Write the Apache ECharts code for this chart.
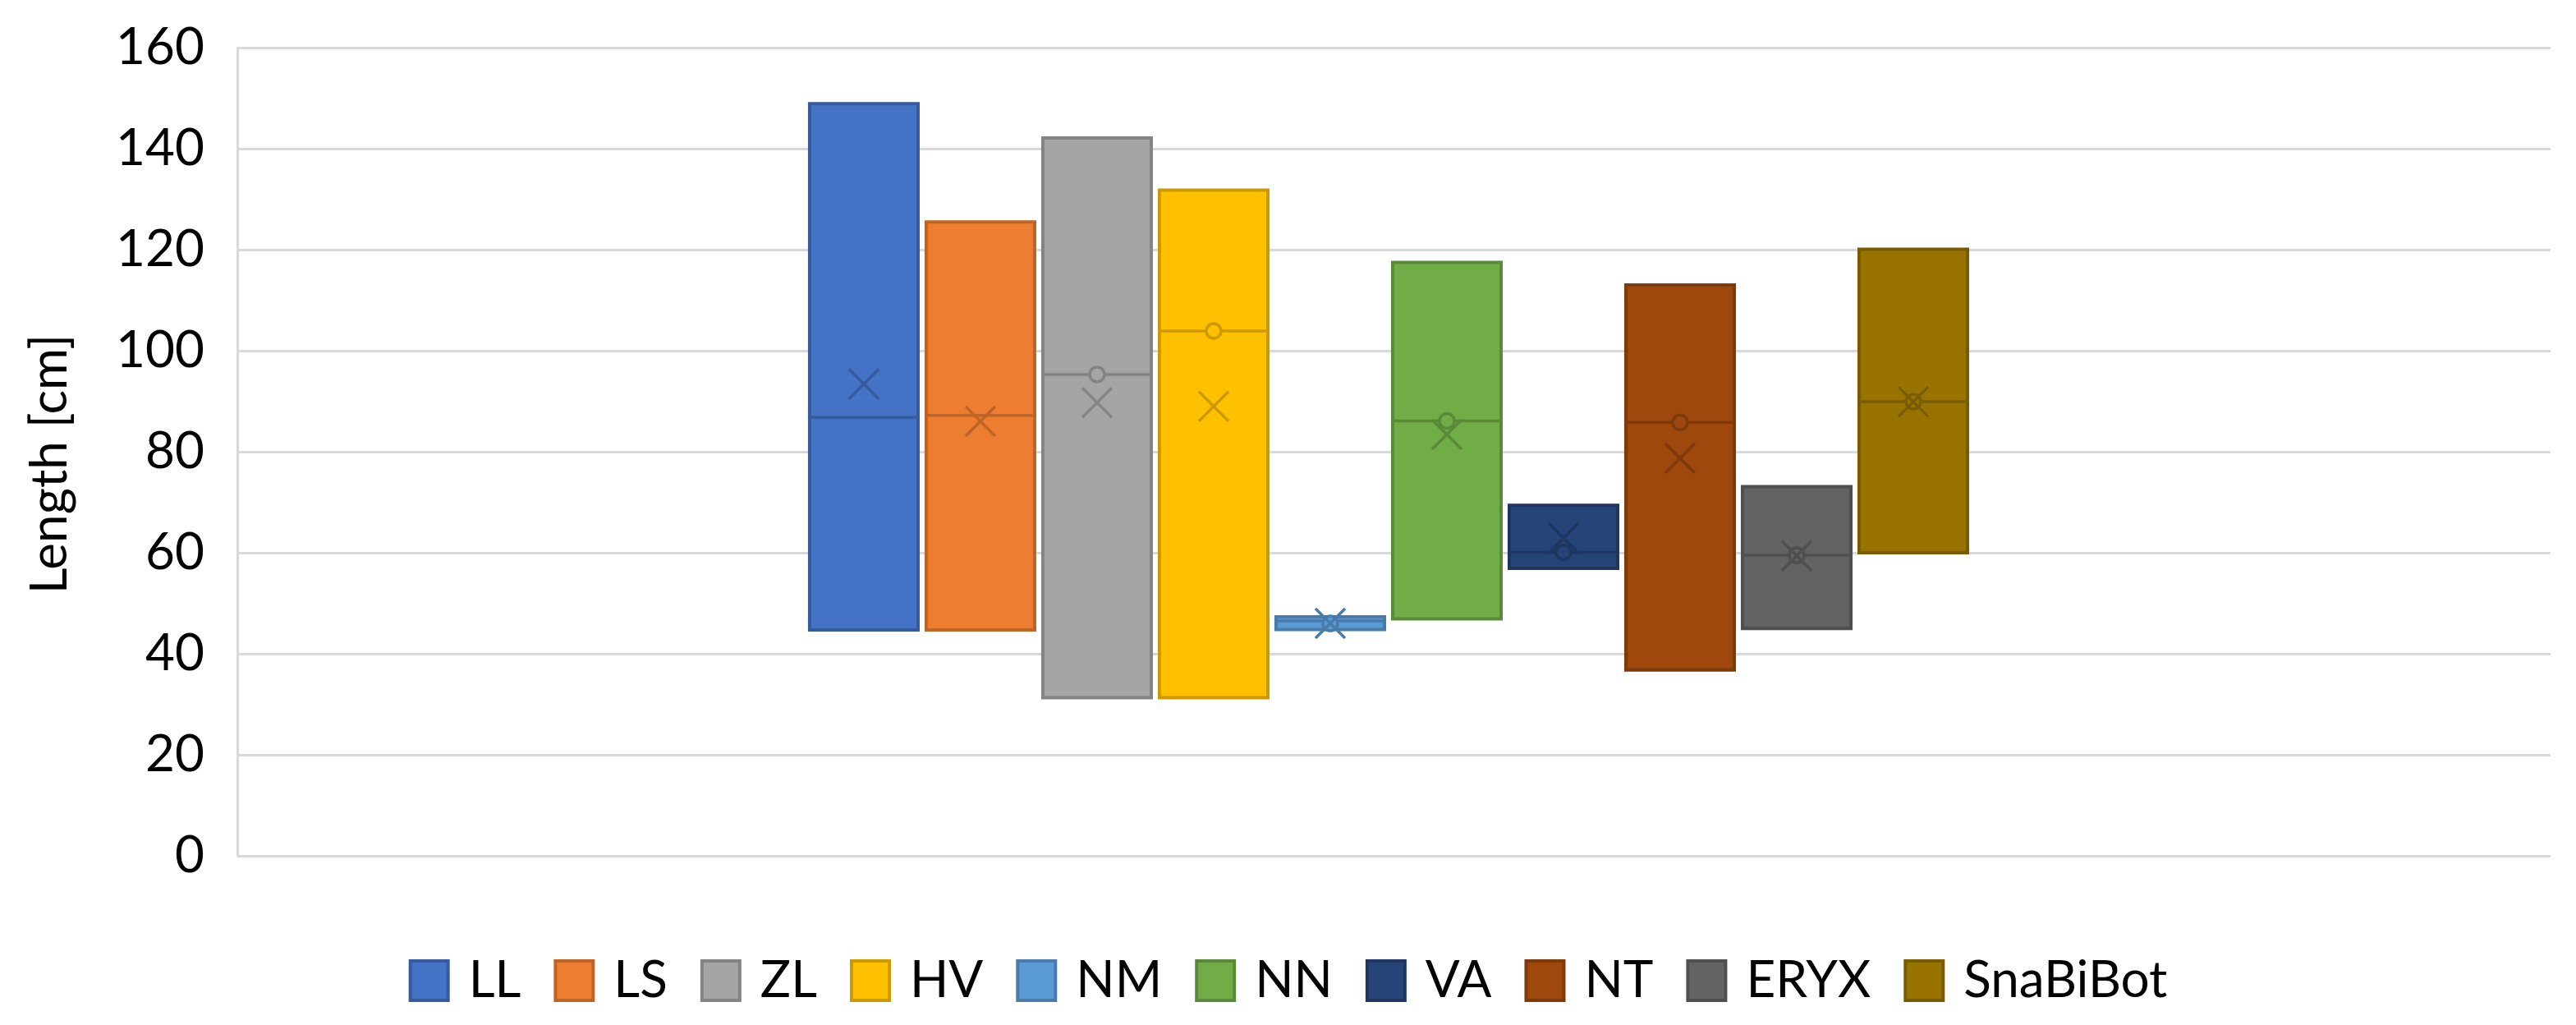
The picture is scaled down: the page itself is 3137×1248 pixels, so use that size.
<!DOCTYPE html>
<html>
<head>
<meta charset="utf-8">
<script src="https://cdn.jsdelivr.net/npm/echarts@6/dist/echarts.min.js"></script>
<style>html,body{margin:0;padding:0;background:#fff}#c{width:3137px;height:1248px}</style>
</head>
<body>
<div id="c"></div>
<script>
// ---- data ----
const names      = ['LL', 'LS', 'ZL', 'HV', 'NM', 'NN', 'VA', 'NT', 'ERYX', 'SnaBiBot'];
const minVals    = [44.7, 44.7, 31.3, 31.3, 44.8, 46.9, 56.9, 36.8, 45.0, 60.0];
const maxVals    = [148.9, 125.5, 142.1, 131.8, 47.3, 117.5, 69.4, 113.0, 73.1, 120.1];
const medians    = [86.8, 87.2, 95.3, 103.9, 46.5, 86.1, 60.1, 85.8, 59.5, 89.9];
const means      = [93.4, 86.0, 89.7, 89.0, 46.0, 83.4, 62.9, 78.7, 59.4, 89.9];
const innerPts   = [null, null, 95.3, 103.9, 46.0, 86.1, 60.1, 85.8, 59.5, 89.9];
const yTicks     = [0, 20, 40, 60, 80, 100, 120, 140, 160];

// ---- styles ----
const fills   = ['#4472C4', '#ED7D31', '#A5A5A5', '#FFC000', '#5B9BD5', '#70AD47', '#264478', '#9E480E', '#636363', '#997300'];
const borders = ['#365B9D', '#BE6427', '#848484', '#CC9A00', '#497CAA', '#5A8A39', '#1E3660', '#7E3A0B', '#4F4F4F', '#7A5C00'];
const FONT = 'Lato, "Open Sans", sans-serif';
const boxWidthUnits = 0.93;

function makeRender(i) {
  return function (params, api) {
    const x = api.value(0);
    const pMin = api.coord([x, api.value(1)]);
    const pMax = api.coord([x, api.value(2)]);
    const pMed = api.coord([x, api.value(3)]);
    const pMean = api.coord([x, api.value(4)]);
    const w = api.size([boxWidthUnits, 0])[0];
    const cx = pMin[0];
    const stroke = borders[i];
    const children = [
      { type: 'rect', shape: { x: cx - w / 2, y: pMax[1], width: w, height: pMin[1] - pMax[1] },
        style: { fill: fills[i], stroke: stroke, lineWidth: 4 } },
      { type: 'line', shape: { x1: cx - w / 2, y1: pMed[1], x2: cx + w / 2, y2: pMed[1] },
        style: { stroke: stroke, lineWidth: 3.5 } }
    ];
    if (innerPts[i] != null) {
      const pIn = api.coord([x, innerPts[i]]);
      children.push({ type: 'circle', shape: { cx: cx, cy: pIn[1], r: 9 },
        style: { fill: fills[i], stroke: stroke, lineWidth: 3.5 } });
    }
    const s = 18;
    children.push({ type: 'line', shape: { x1: cx - s, y1: pMean[1] - s, x2: cx + s, y2: pMean[1] + s },
      style: { stroke: stroke, lineWidth: 3.5 } });
    children.push({ type: 'line', shape: { x1: cx - s, y1: pMean[1] + s, x2: cx + s, y2: pMean[1] - s },
      style: { stroke: stroke, lineWidth: 3.5 } });
    return { type: 'group', children: children };
  };
}

const series = names.map(function (n, i) {
  return {
    name: n,
    type: 'custom',
    renderItem: makeRender(i),
    itemStyle: { color: fills[i], borderColor: borders[i] },
    encode: { x: 0, y: [1, 2, 3, 4] },
    data: [[i, minVals[i], maxVals[i], medians[i], means[i]]]
  };
});

const chart = echarts.init(document.getElementById('c'));
chart.setOption({
  animation: false,
  backgroundColor: '#ffffff',
  grid: { left: 289, right: 31, top: 58, bottom: 206, containLabel: false },
  xAxis: {
    type: 'value', min: -5.373, max: 14.465,
    show: false
  },
  yAxis: {
    type: 'value', min: yTicks[0], max: yTicks[yTicks.length - 1], interval: 20,
    name: 'Length [cm]', nameLocation: 'middle', nameGap: 197,
    nameTextStyle: { fontSize: 62, fontFamily: FONT, color: '#000', padding: [0, 30, 0, 0] },
    axisLine: { show: true, onZero: false, lineStyle: { color: '#D9D9D9', width: 3 } },
    axisTick: { show: false },
    axisLabel: { fontSize: 62, fontFamily: FONT, color: '#000', margin: 40 },
    splitLine: { show: true, lineStyle: { color: '#D9D9D9', width: 3 } }
  },
  legend: {
    top: 1158, left: 'center',
    itemWidth: 46, itemHeight: 48, itemGap: 40,
    textStyle: { fontSize: 62, fontFamily: FONT, color: '#000', lineHeight: 62, padding: [0, 0, 0, 20] },
    data: names.map(function (n, i) {
      return { name: n, icon: 'rect', itemStyle: { color: fills[i], borderColor: borders[i], borderWidth: 4 } };
    })
  },
  series: series
});
</script>
</body>
</html>
